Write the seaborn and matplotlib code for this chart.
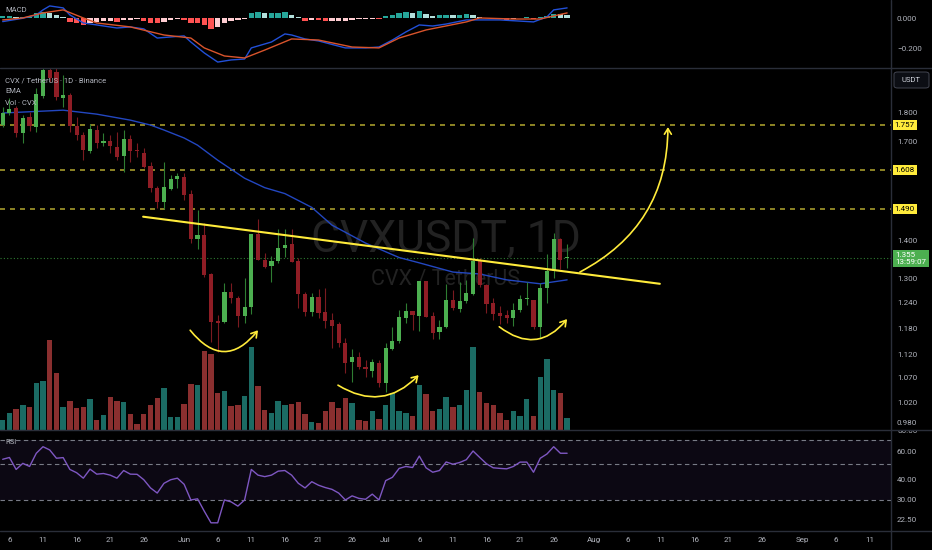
import matplotlib.pyplot as plt
import seaborn as sns
import pandas as pd
import numpy as np
from matplotlib.patches import FancyArrowPatch, FancyBboxPatch
from matplotlib.ticker import FixedLocator, NullLocator, FuncFormatter
from matplotlib.transforms import blended_transform_factory
from matplotlib.lines import Line2D

# daily candles, CVX / USDT, from 5 May
start_date = pd.Timestamp('2023-05-05')

opens = [1.757, 1.799, 1.817, 1.730, 1.785, 1.750, 1.859, 1.957, 1.950, 1.853,
         1.864, 1.754, 1.723, 1.670, 1.740, 1.696, 1.703, 1.683, 1.654, 1.709,
         1.673, 1.663, 1.621, 1.554, 1.511, 1.550, 1.580, 1.587, 1.536, 1.406,
         1.415, 1.312, 1.197, 1.194, 1.267, 1.252, 1.208, 1.229, 1.418, 1.349,
         1.333, 1.346, 1.380, 1.391, 1.346, 1.262, 1.218, 1.254, 1.218, 1.199,
         1.190, 1.146, 1.104, 1.115, 1.093, 1.085, 1.102, 1.060, 1.133, 1.151,
         1.204, 1.220, 1.208, 1.294, 1.208, 1.171, 1.183, 1.247, 1.225, 1.244,
         1.262, 1.346, 1.284, 1.239, 1.216, 1.211, 1.204, 1.223, 1.249, 1.247,
         1.183, 1.277, 1.320, 1.406, 1.353]
highs = [1.821, 1.853, 1.825, 1.792, 1.802, 1.888, 1.990, 1.975, 1.975, 1.940,
         1.871, 1.785, 1.733, 1.760, 1.757, 1.730, 1.723, 1.733, 1.740, 1.723,
         1.696, 1.680, 1.634, 1.560, 1.634, 1.594, 1.598, 1.598, 1.547, 1.487,
         1.449, 1.315, 1.211, 1.289, 1.289, 1.257, 1.301, 1.418, 1.462, 1.367,
         1.359, 1.433, 1.433, 1.433, 1.355, 1.267, 1.264, 1.274, 1.277, 1.216,
         1.194, 1.157, 1.133, 1.126, 1.108, 1.110, 1.108, 1.146, 1.183, 1.223,
         1.239, 1.220, 1.294, 1.294, 1.218, 1.199, 1.287, 1.272, 1.292, 1.297,
         1.409, 1.355, 1.287, 1.252, 1.232, 1.223, 1.239, 1.259, 1.292, 1.247,
         1.289, 1.364, 1.421, 1.409, 1.391]
lows = [1.750, 1.792, 1.716, 1.696, 1.736, 1.733, 1.853, 1.912, 1.845, 1.820,
        1.733, 1.706, 1.640, 1.663, 1.680, 1.686, 1.663, 1.640, 1.602, 1.634,
        1.650, 1.615, 1.540, 1.494, 1.491, 1.547, 1.554, 1.518, 1.394, 1.378,
        1.304, 1.149, 1.126, 1.192, 1.239, 1.183, 1.192, 1.213, 1.349, 1.328,
        1.292, 1.341, 1.357, 1.343, 1.227, 1.208, 1.208, 1.204, 1.181, 1.135,
        1.137, 1.081, 1.062, 1.089, 1.072, 1.072, 1.052, 1.041, 1.130, 1.146,
        1.192, 1.175, 1.173, 1.206, 1.155, 1.155, 1.181, 1.223, 1.218, 1.239,
        1.259, 1.279, 1.216, 1.199, 1.190, 1.192, 1.185, 1.218, 1.234, 1.178,
        1.157, 1.239, 1.301, 1.325, 1.328]
closes = [1.800, 1.813, 1.731, 1.781, 1.754, 1.866, 1.957, 1.927, 1.856, 1.864,
          1.754, 1.723, 1.673, 1.743, 1.696, 1.703, 1.686, 1.650, 1.709, 1.670,
          1.670, 1.618, 1.554, 1.511, 1.557, 1.580, 1.590, 1.532, 1.406, 1.415,
          1.309, 1.194, 1.192, 1.267, 1.252, 1.208, 1.229, 1.418, 1.349, 1.330,
          1.346, 1.380, 1.389, 1.343, 1.262, 1.218, 1.254, 1.216, 1.197, 1.185,
          1.146, 1.102, 1.115, 1.093, 1.089, 1.104, 1.060, 1.135, 1.151, 1.206,
          1.220, 1.211, 1.294, 1.206, 1.169, 1.183, 1.247, 1.227, 1.244, 1.264,
          1.346, 1.284, 1.237, 1.213, 1.208, 1.204, 1.223, 1.249, 1.252, 1.183,
          1.277, 1.320, 1.406, 1.349, 1.355]
# volume, thousand CVX
volumes = [100, 170, 210, 250, 230, 470, 490, 900, 570, 230,
           290, 220, 230, 310, 100, 150, 330, 290, 280, 160,
           60, 160, 250, 320, 420, 130, 130, 260, 460, 450,
           790, 760, 370, 390, 240, 250, 340, 830, 440, 200,
           170, 290, 250, 260, 280, 160, 80, 70, 190, 280,
           220, 320, 270, 100, 90, 190, 110, 250, 370, 190,
           170, 140, 450, 360, 190, 210, 330, 230, 250, 400,
           830, 380, 270, 250, 170, 100, 190, 140, 310, 140,
           530, 710, 400, 370, 120]
rsi = [53.3, 54.7, 46.1, 50.3, 48.1, 58.1, 63.8, 60.9, 54.1, 54.6,
       46.1, 44.0, 40.7, 46.3, 43.1, 43.5, 42.5, 40.7, 45.4, 43.1,
       43.0, 39.8, 35.4, 32.9, 37.8, 39.8, 40.7, 37.3, 29.8, 30.3,
       25.4, 21.5, 21.5, 29.8, 29.0, 27.3, 29.8, 46.1, 42.5, 41.6,
       42.5, 45.0, 45.4, 42.5, 37.8, 35.4, 38.7, 36.8, 35.6, 34.7,
       32.9, 29.8, 31.6, 30.5, 30.1, 32.4, 29.8, 39.3, 41.2, 46.8,
       48.1, 47.4, 55.8, 47.2, 44.3, 45.4, 51.3, 49.7, 50.9, 53.0,
       60.0, 54.7, 50.0, 47.2, 46.8, 46.5, 48.1, 51.2, 51.2, 44.3,
       54.1, 57.5, 63.8, 58.1, 58.1]
macd_hist = [0.015, 0.015, 0.010, 0.010, 0.010, 0.033, 0.044, 0.037, 0.022, 0.010,
             -0.022, -0.033, -0.044, -0.028, -0.022, -0.015, -0.015, -0.022, -0.011, -0.011,
             -0.007, -0.015, -0.028, -0.033, -0.022, -0.011, -0.007, -0.011, -0.028, -0.033,
             -0.044, -0.072, -0.055, -0.033, -0.015, -0.011, -0.007, 0.037, 0.042, 0.037,
             0.037, 0.037, 0.042, 0.022, 0.007, -0.015, -0.010, -0.011, -0.015, -0.015,
             -0.015, -0.015, -0.011, -0.007, -0.005, -0.003, -0.007, 0.015, 0.022, 0.033,
             0.044, 0.037, 0.048, 0.029, 0.015, 0.020, 0.022, 0.020, 0.020, 0.025,
             0.020, 0.007, 0.003, -0.003, -0.007, -0.011, -0.007, 0.004, 0.005, -0.007,
             0.005, 0.015, 0.030, 0.028, 0.020]

# indicator lines read at selected days (day index from 5 May)
macd_days = [0, 3, 5, 6, 7, 9, 10, 12, 14, 17, 19, 21, 23, 25, 27, 28, 30, 32, 34, 36,
             37, 40, 42, 43, 45, 47, 51, 54, 56, 58, 60, 62, 64, 66, 69, 74, 79, 81, 82, 84]
macd_line = [-0.022, 0.000, 0.022, 0.055, 0.081, 0.068, 0.022, -0.031, -0.044, -0.064,
             -0.057, -0.070, -0.130, -0.123, -0.116, -0.156, -0.228, -0.288, -0.274, -0.268,
             -0.195, -0.156, -0.103, -0.110, -0.136, -0.149, -0.195, -0.195, -0.189, -0.143,
             -0.090, -0.044, -0.051, -0.038, -0.011, -0.011, -0.024, 0.009, 0.055, 0.068]
signal_days = [0, 3, 6, 9, 12, 14, 19, 24, 28, 30, 33, 36, 39, 43, 47, 52, 56, 59, 63,
               69, 71, 76, 80, 84]
signal_line = [-0.011, 0.002, 0.035, 0.055, 0.002, -0.031, -0.057, -0.110, -0.130, -0.195,
               -0.248, -0.261, -0.209, -0.136, -0.143, -0.189, -0.195, -0.130, -0.077,
               -0.024, 0.002, -0.005, -0.005, 0.035]
ema_days = [0, 9, 14, 19, 22, 24, 27, 29, 32, 36, 39, 42, 46, 49, 54, 59, 62, 67, 71, 75, 80, 84]
ema_vals = [1.799, 1.809, 1.795, 1.774, 1.757, 1.740, 1.713, 1.689, 1.640, 1.583, 1.554,
            1.536, 1.495, 1.444, 1.394, 1.355, 1.341, 1.317, 1.312, 1.297, 1.287, 1.297]

# chart drawings
levels = [1.757, 1.608, 1.490]
last_price = 1.355
trend_days = [20.9, 97.8]
trend_prices = [1.468, 1.287]
arrows = [((27.9, 1.175), (38.0, 1.175), 0.62),
          ((49.9, 1.055), (61.9, 1.076), 0.40),
          ((73.9, 1.183), (84.0, 1.201), 0.48),
          ((85.9, 1.317), (99.0, 1.750), 0.30)]
price_ticks = [1.800, 1.700, 1.400, 1.300, 1.240, 1.180, 1.120, 1.070, 1.020, 0.980]
rsi_ticks = [60, 40, 30, 22.5]
macd_ticks = [0.0, -0.2]

sns.set_theme(style='dark')
plt.rcParams['font.family'] = ['Roboto', 'DejaVu Sans']

BG = '#000000'
TXT = '#b2b5be'
SEP = '#2a2e39'
UP, DOWN = '#4caf50', '#8f1d25'
UP_WICK, DOWN_WICK = '#2e7d32', '#7a1a20'
VOL_UP, VOL_DOWN = '#1b6b64', '#8a2f2f'
YELLOW = '#ffeb3b'
FS = 5.8

df = pd.DataFrame({'open': opens, 'high': highs, 'low': lows, 'close': closes,
                   'volume': volumes, 'rsi': rsi, 'hist': macd_hist})
df['day'] = np.arange(len(df))
df['up'] = df['close'] >= df['open']

fig = plt.figure(figsize=(9.32, 5.5), dpi=100, facecolor=BG)
W = 891 / 932
ax_macd = fig.add_axes([0, 1 - 68 / 550, W, 68 / 550])
ax = fig.add_axes([0, 1 - 430 / 550, W, 362 / 550], sharex=ax_macd)
ax_rsi = fig.add_axes([0, 1 - 531 / 550, W, 101 / 550], sharex=ax_macd)
axv = ax.twinx()
ax.set_zorder(axv.get_zorder() + 1)
ax.patch.set_visible(False)

for a in (ax_macd, ax, ax_rsi, axv):
    a.set_facecolor(BG)
    a.grid(False)
    for s in a.spines.values():
        s.set_visible(False)

# volume underneath
axv.bar(df['day'], df['volume'], width=0.8,
        color=np.where(df['up'], VOL_UP, VOL_DOWN), linewidth=0)
axv.set_ylim(0, 3620)
axv.set_yticks([])
axv.tick_params(right=False, labelright=False)

# price pane
ax.set_yscale('log')
ax.text(0.5, 0.492, 'CVXUSDT, 1D', transform=ax.transAxes, ha='center', va='baseline',
        fontsize=32, color='#222222', zorder=0)
ax.text(0.5, 0.40, 'CVX / TetherUS', transform=ax.transAxes, ha='center', va='baseline',
        fontsize=15.5, color='#222222', zorder=0)
for lv in levels:
    ax.axhline(lv, color='#a59a2c', lw=1.2, dashes=(3, 3), zorder=1)
ax.axhline(last_price, color='#2e7d32', lw=0.8, ls=(0, (1, 2)), zorder=1)
sns.lineplot(x=ema_days, y=ema_vals, ax=ax, color='#2347c0', lw=1, zorder=2)

wick_cols = np.where(df['up'], UP_WICK, DOWN_WICK)
ax.vlines(df['day'], df['low'], df['high'], colors=wick_cols, lw=0.8, zorder=3)
body_lo = np.minimum(df['open'], df['close'])
body_h = np.maximum((df['close'] - df['open']).abs(), 0.003)
ax.bar(df['day'], body_h, bottom=body_lo, width=0.62,
       color=np.where(df['up'], UP, DOWN), linewidth=0, zorder=4)

ax.plot(trend_days, trend_prices, color=YELLOW, lw=1.5, zorder=5)
for a_pt, b_pt, rad in arrows:
    ax.add_patch(FancyArrowPatch(a_pt, b_pt, connectionstyle=f'arc3,rad={rad}',
                                 arrowstyle='->,head_length=4,head_width=2.5',
                                 color=YELLOW, lw=1.2, shrinkA=0, shrinkB=0, zorder=6))

ax.set_ylim(0.9662, 1.965)
ax.yaxis.tick_right()
ax.yaxis.set_major_locator(FixedLocator(price_ticks))
ax.yaxis.set_minor_locator(NullLocator())
ax.yaxis.set_major_formatter(FuncFormatter(lambda v, p: f'{v:.3f}'))
ax.tick_params(axis='y', length=0, pad=4.3, labelsize=FS, labelcolor=TXT)
ax.tick_params(axis='x', bottom=False, labelbottom=False)
ax.set_xlabel('')
ax.set_ylabel('')

tr = blended_transform_factory(ax.transAxes, ax.transData)
for lv in levels:
    ax.text(1.004, lv, f'{lv:.3f}', transform=tr, ha='left', va='center', fontsize=FS,
            color='black', clip_on=False, zorder=10,
            bbox=dict(boxstyle='square,pad=0.25', fc=YELLOW, ec='none'))
ax.annotate(f'{last_price:.3f}\n13:59:07', xy=(1.0, last_price), xycoords=tr,
            xytext=(3, 4), textcoords='offset points', ha='left', va='top', fontsize=FS,
            color='white', linespacing=1.15, annotation_clip=False, zorder=10,
            bbox=dict(boxstyle='square,pad=0.3', fc='#4caf50', ec='none'))

ax.text(5 / 891, 0.975, 'CVX / TetherUS · 1D · Binance', transform=ax.transAxes,
        ha='left', va='top', fontsize=5.5, color=TXT, zorder=10)
ax.text(5 / 891, 0.944, 'EMA', transform=ax.transAxes, ha='left', va='top',
        fontsize=5.5, color=TXT, zorder=10)
ax.text(5 / 891, 0.912, 'Vol · CVX', transform=ax.transAxes, ha='left', va='top',
        fontsize=5.5, color=TXT, zorder=10)

# MACD pane
prev = np.r_[macd_hist[0], macd_hist[:-1]]
hist = np.array(macd_hist)
hist_cols = np.where(hist >= 0, np.where(hist >= prev, '#26a69a', '#b2dfdb'),
                     np.where(hist < prev, '#ff5252', '#ffcdd2'))
ax_macd.bar(df['day'], hist, width=0.8, color=hist_cols, linewidth=0)
sns.lineplot(x=macd_days, y=macd_line, ax=ax_macd, color='#2250d8', lw=1)
sns.lineplot(x=signal_days, y=signal_line, ax=ax_macd, color='#d9542c', lw=1)
ax_macd.set_ylim(-0.327, 0.120)
ax_macd.yaxis.tick_right()
ax_macd.yaxis.set_major_locator(FixedLocator(macd_ticks))
ax_macd.yaxis.set_major_formatter(FuncFormatter(lambda v, p: f'{v:.3f}'.replace('-', '\u2212')))
ax_macd.tick_params(axis='y', length=0, pad=4.3, labelsize=FS, labelcolor=TXT)
ax_macd.tick_params(axis='x', bottom=False, labelbottom=False)
ax_macd.set_xlabel('')
ax_macd.set_ylabel('')
ax_macd.text(5 / 891, 0.9, 'MACD', transform=ax_macd.transAxes, ha='left', va='top',
             fontsize=5.5, color=TXT)

# RSI pane
ax_rsi.set_yscale('log')
ax_rsi.axhspan(30, 70, color='#7e57c2', alpha=0.1, lw=0)
for lv in (70, 50, 30):
    ax_rsi.axhline(lv, color='#787b86', lw=0.8, dashes=(4, 3))
sns.lineplot(x=df['day'], y=df['rsi'], ax=ax_rsi, color='#7e57c2', lw=1)
ax_rsi.set_ylim(19.13, 81.0)
ax_rsi.yaxis.tick_right()
ax_rsi.yaxis.set_major_locator(FixedLocator(rsi_ticks))
ax_rsi.yaxis.set_minor_locator(NullLocator())
ax_rsi.yaxis.set_major_formatter(FuncFormatter(lambda v, p: f'{v:.2f}'))
ax_rsi.tick_params(axis='y', length=0, pad=4.3, labelsize=FS, labelcolor=TXT)
ax_rsi.set_xlabel('')
ax_rsi.set_ylabel('')
ax_rsi.text(5 / 891, 0.91, 'RSI', transform=ax_rsi.transAxes, ha='left', va='top',
            fontsize=5.5, color=TXT)
# top label of the RSI scale, half hidden under the pane border
ax_rsi.text(1.0, 80, '80.00', transform=blended_transform_factory(ax_rsi.transAxes, ax_rsi.transData),
            ha='left', va='center', fontsize=FS, color=TXT, clip_on=False)
fig.add_artist(FancyBboxPatch((W + 0.001, 1 - 430 / 550), 1, 3 / 550,
                              boxstyle='square,pad=0', transform=fig.transFigure,
                              fc=BG, ec='none', zorder=5))
ax_rsi.texts[-1].set_position((1 + 6 / 891, 80))

# date axis
tick_pos, tick_lab = [], []
for month in [5, 6, 7, 8, 9]:
    for day in [1, 6, 11, 16, 21, 26]:
        d = pd.Timestamp(2023, month, day)
        i = (d - start_date).days
        if -0.4 <= i <= 132:
            tick_pos.append(i)
            tick_lab.append(d.strftime('%b') if day == 1 else str(day))
ax_rsi.set_xticks(tick_pos)
ax_rsi.set_xticklabels(tick_lab)
ax_rsi.tick_params(axis='x', length=0, pad=4, labelsize=FS, labelcolor=TXT)
ax_macd.set_xlim(-0.4, 132.2)

# pane separators and price scale header
for y in (68, 430, 531):
    fig.add_artist(Line2D([0, 1], [1 - y / 550] * 2, transform=fig.transFigure,
                          color=SEP, lw=1, zorder=6))
fig.add_artist(Line2D([W, W], [0, 1], transform=fig.transFigure, color=SEP, lw=1, zorder=6))
fig.add_artist(FancyBboxPatch((894 / 932, 1 - 88 / 550), 35 / 932, 16 / 550,
                              boxstyle='round,pad=0,rounding_size=0.004',
                              transform=fig.transFigure, fc='#0c0e14', ec='#434651', lw=0.7))
fig.text(911.5 / 932, 1 - 80 / 550, 'USDT', ha='center', va='center', fontsize=5.5,
         color='#d1d4dc')

fig.savefig('out.png', dpi=100, facecolor=BG)
